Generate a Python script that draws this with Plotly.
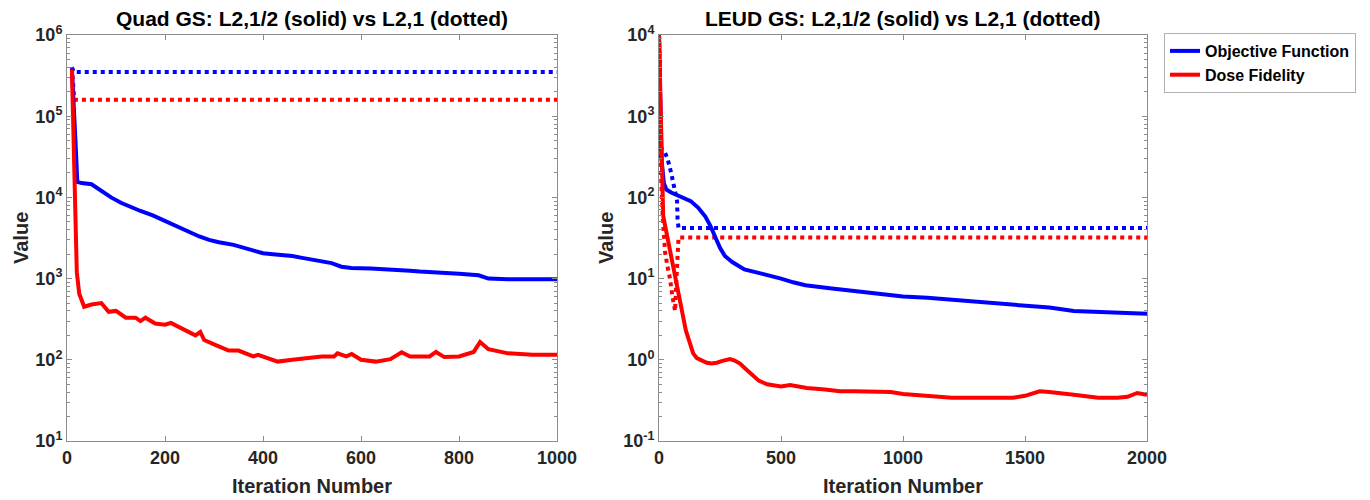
import plotly.graph_objects as go

# ---------------- Data ----------------
# Left panel: Quad GS
quad_obj_solid_x = [10, 14, 18, 21, 30, 50, 70, 90, 110, 130, 150, 175, 200, 225, 250, 270, 290, 310, 340,
                    360, 380, 400, 420, 440, 460, 480, 500, 520, 540, 560, 580, 620, 660, 700, 720, 760,
                    800, 840, 860, 900, 1000]
quad_obj_solid_y = [3.9e5, 1.5e5, 4e4, 1.55e4, 1.5e4, 1.45e4, 1.2e4, 1.0e4, 8.6e3, 7.6e3, 6.8e3, 6.0e3, 5.1e3,
                    4.3e3, 3.7e3, 3.3e3, 3.0e3, 2.8e3, 2.6e3, 2.4e3, 2.2e3, 2.05e3, 2.0e3, 1.95e3, 1.9e3,
                    1.8e3, 1.7e3, 1.65e3, 1.55e3, 1.4e3, 1.35e3, 1.33e3, 1.3e3, 1.25e3, 1.22e3, 1.2e3,
                    1.15e3, 1.1e3, 1.0e3, 0.98e3, 0.98e3]
quad_dose_solid_x = [10, 12, 14, 17, 20, 25, 35, 50, 70, 85, 100, 120, 140, 150, 160, 180, 200, 212, 240, 262,
                     272, 280, 300, 330, 350, 380, 390, 410, 430, 460, 500, 520, 545, 552, 570, 581, 600, 630,
                     660, 683, 700, 740, 753, 770, 800, 830, 843, 860, 900, 950, 1000]
quad_dose_solid_y = [3.7e5, 1e5, 2e4, 2.5e3, 1.2e3, 6.5e2, 4.5e2, 4.8e2, 5.0e2, 3.9e2, 4.0e2, 3.3e2, 3.3e2, 3.0e2,
                     3.3e2, 2.8e2, 2.7e2, 2.85e2, 2.3e2, 2.0e2, 2.2e2, 1.75e2, 1.55e2, 1.3e2, 1.3e2, 1.1e2,
                     1.15e2, 1.05e2, 9.5e1, 1.0e2, 1.05e2, 1.1e2, 1.1e2, 1.2e2, 1.1e2, 1.18e2, 1.0e2, 9.5e1,
                     1.02e2, 1.24e2, 1.1e2, 1.1e2, 1.25e2, 1.08e2, 1.1e2, 1.25e2, 1.66e2, 1.35e2, 1.2e2,
                     1.15e2, 1.15e2]
quad_obj_dot_x = [10, 14, 1000]
quad_obj_dot_y = [4.0e5, 3.5e5, 3.5e5]
quad_dose_dot_x = [10, 12, 15, 1000]
quad_dose_dot_y = [4.0e5, 2.5e5, 1.6e5, 1.6e5]

# Right panel: LEUD GS
leud_obj_solid_x = [0, 5, 10, 20, 30, 50, 80, 100, 130, 160, 190, 210, 230, 250, 270, 300, 350, 400, 450, 500,
                    550, 600, 700, 800, 900, 1000, 1100, 1200, 1300, 1400, 1500, 1600, 1700, 1800, 1900, 2000]
leud_obj_solid_y = [1e4, 1e3, 300, 150, 125, 115, 105, 100, 90, 75, 58, 45, 33, 24, 19, 16, 13, 12, 11, 10,
                    9, 8.3, 7.6, 7.0, 6.4, 6.0, 5.8, 5.5, 5.3, 5.0, 4.7, 4.4, 4.0, 3.9, 3.8, 3.7]
leud_dose_solid_x = [0, 5, 10, 13, 17, 25, 45, 60, 74, 85, 98, 110, 127, 140, 155, 175, 196, 215, 237, 260, 291,
                     310, 332, 360, 385, 410, 443, 470, 500, 537, 570, 606, 680, 742, 800, 880, 950, 1000,
                     1100, 1200, 1300, 1400, 1450, 1500, 1540, 1560, 1600, 1650, 1700, 1800, 1880, 1920,
                     1960, 2000]
leud_dose_solid_y = [1e4, 2e3, 200, 100, 60, 45, 23, 14, 9, 6, 3.5, 2.3, 1.5, 1.2, 1.05, 0.97, 0.92, 0.9, 0.92,
                     0.97, 1.02, 0.98, 0.9, 0.75, 0.63, 0.55, 0.5, 0.48, 0.47, 0.49, 0.47, 0.45, 0.43, 0.41,
                     0.41, 0.40, 0.40, 0.38, 0.36, 0.34, 0.34, 0.34, 0.34, 0.36, 0.40, 0.41, 0.40, 0.39,
                     0.37, 0.34, 0.34, 0.35, 0.39, 0.37]
leud_obj_dot_x = [0, 3, 8, 20, 35, 50, 62, 70, 74, 76, 80, 2000]
leud_obj_dot_y = [1e4, 2000, 400, 380, 300, 200, 140, 105, 90, 55, 42, 42]
leud_dose_dot_x = [0, 3, 8, 15, 25, 35, 45, 55, 62, 66, 70, 74, 80, 2000]
leud_dose_dot_y = [1e4, 1500, 200, 60, 21, 14, 10, 6, 4.5, 4.0, 8, 20, 32, 32]

# Titles / labels
titles = ["Quad GS: L2,1/2 (solid) vs L2,1 (dotted)", "LEUD GS: L2,1/2 (solid) vs L2,1 (dotted)"]
x_label = "Iteration Number"
y_label = "Value"
series_names = ["Objective Function", "Dose Fidelity"]
left_x_ticks = [0, 200, 400, 600, 800, 1000]
right_x_ticks = [0, 500, 1000, 1500, 2000]
left_y_exps = [1, 2, 3, 4, 5, 6]
right_y_exps = [-1, 0, 1, 2, 3, 4]

BLUE = "rgb(0,0,255)"
RED = "rgb(255,0,0)"
LW = 4

fig = go.Figure()

def add(x, y, color, dash, xa, ya, name=None, show=False):
    fig.add_trace(go.Scatter(x=x, y=y, mode="lines", line=dict(color=color, width=LW, dash=dash),
                             xaxis=xa, yaxis=ya, name=name, showlegend=show, hoverinfo="skip"))

# left
add(quad_obj_dot_x, quad_obj_dot_y, BLUE, "dot", "x", "y")
add(quad_dose_dot_x, quad_dose_dot_y, RED, "dot", "x", "y")
add(quad_obj_solid_x, quad_obj_solid_y, BLUE, "solid", "x", "y")
add(quad_dose_solid_x, quad_dose_solid_y, RED, "solid", "x", "y")
# right
add(leud_obj_dot_x, leud_obj_dot_y, BLUE, "dot", "x2", "y2")
add(leud_dose_dot_x, leud_dose_dot_y, RED, "dot", "x2", "y2")
add(leud_obj_solid_x, leud_obj_solid_y, BLUE, "solid", "x2", "y2", series_names[0], True)
add(leud_dose_solid_x, leud_dose_solid_y, RED, "solid", "x2", "y2", series_names[1], True)

W, H = 1370, 500
L1, R1 = 67, 557
L2, R2 = 659, 1147
TOP, BOT = 35, 441
ydom = [1 - BOT / H, 1 - TOP / H]

AX_COLOR = "#8c8c8c"
TXT = "#262626"
FAM = "Liberation Sans, Arial"
TICK_FONT = dict(family=FAM, size=18, color=TXT, weight="bold")

def xaxis(dom, ticks, rng):
    return dict(domain=[dom[0] / W, dom[1] / W], range=rng, tickmode="array", tickvals=ticks,
                ticktext=[str(t) for t in ticks], ticks="inside", ticklen=5, tickcolor=AX_COLOR,
                showline=True, linecolor=AX_COLOR, linewidth=1, mirror="ticks", showgrid=False,
                zeroline=False, tickfont=TICK_FONT, automargin=False)

def yaxis(exps, anchor):
    return dict(domain=ydom, type="log", range=[exps[0], exps[-1]], tickmode="array",
                tickvals=[10 ** e for e in exps],
                ticktext=["10<sup>%d</sup>" % e for e in exps],
                ticks="inside", ticklen=5, tickcolor=AX_COLOR,
                minor=dict(dtick="D1", ticks="inside", ticklen=3, tickcolor=AX_COLOR, showgrid=False),
                showline=True, linecolor=AX_COLOR, linewidth=1, mirror="ticks", showgrid=False,
                zeroline=False, tickfont=TICK_FONT, anchor=anchor, automargin=False)

fig.update_layout(
    width=W, height=H,
    margin=dict(l=0, r=0, t=0, b=0),
    paper_bgcolor="white", plot_bgcolor="white",
    font=dict(family=FAM, color="black", weight="bold"),
    xaxis=xaxis((L1, R1), left_x_ticks, [0, 1000]),
    yaxis=yaxis(left_y_exps, "x"),
    xaxis2=xaxis((L2, R2), right_x_ticks, [0, 2000]),
    yaxis2=yaxis(right_y_exps, "x2"),
    legend=dict(x=1164 / W, y=1 - 33 / H, xanchor="left", yanchor="top",
                bordercolor="#b0b0b0", borderwidth=1, bgcolor="white",
                font=dict(family=FAM, size=16, color="black", weight="bold"),
                tracegroupgap=0, itemwidth=30),
    showlegend=True,
)

ann = []
for (l, r), t in zip([(L1, R1), (L2, R2)], titles):
    cx = (l + r) / 2 / W
    ann.append(dict(text=t, x=cx, y=1 - 18 / H, xref="paper", yref="paper", showarrow=False,
                    xanchor="center", yanchor="middle",
                    font=dict(family=FAM, size=21, color="black", weight="bold")))
    ann.append(dict(text=x_label, x=cx, y=1 - 486 / H, xref="paper", yref="paper", showarrow=False,
                    xanchor="center", yanchor="middle",
                    font=dict(family=FAM, size=20, color=TXT, weight="bold")))
for xp in [21, 606]:
    ann.append(dict(text=y_label, x=xp / W, y=(ydom[0] + ydom[1]) / 2, xref="paper", yref="paper",
                    showarrow=False, textangle=-90, xanchor="center", yanchor="middle",
                    font=dict(family=FAM, size=20, color=TXT, weight="bold")))
fig.update_layout(annotations=ann)

fig.write_html("out.html", config={"displayModeBar": False},
               post_script="document.body.style.margin='0px';")
